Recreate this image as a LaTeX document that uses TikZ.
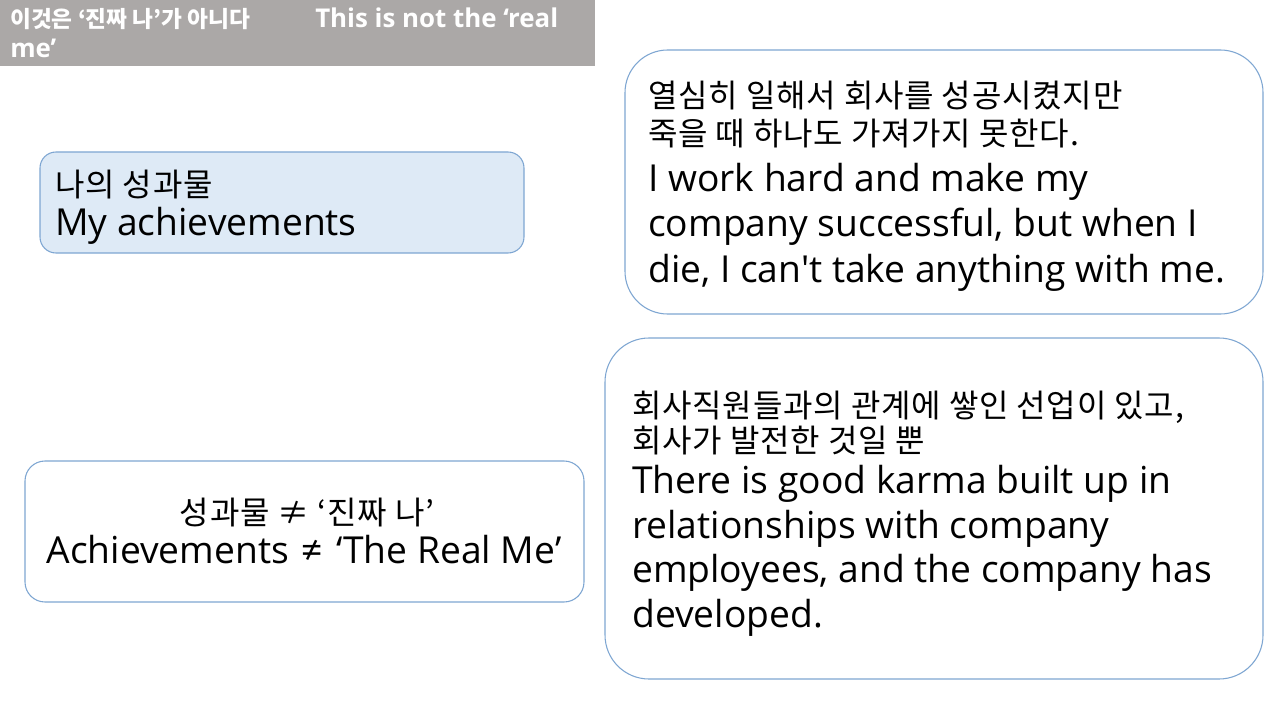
\documentclass[tikz,border=0pt]{standalone}
\usepackage{fontspec}
\setmainfont{Open Sans}[Ligatures=TeXOff]
\newfontfamily\kor{Noto Sans CJK KR}[LetterSpace=2.5]
\newfontfamily\kortitle{Noto Sans CJK KR}
\definecolor{titlegray}{HTML}{ABA8A7}
\definecolor{boxline}{HTML}{7EA6D2}
\definecolor{boxfill}{HTML}{DEEAF6}
\tikzset{
  panel/.style={draw=boxline, line width=0.8pt},
  kline/.style={anchor=base west, inner sep=0pt, font=\kor\fontsize{24}{28}\selectfont},
  eline/.style={anchor=base west, inner sep=0pt, font=\fontsize{27.9}{32}\selectfont},
  kmid/.style={anchor=base, inner sep=0pt, font=\kor\fontsize{24}{28}\selectfont},
  emid/.style={anchor=base, inner sep=0pt, font=\fontsize{27.9}{32}\selectfont},
  ttl/.style={anchor=base west, inner sep=0pt, text=white, font=\kortitle\bfseries\fontsize{17}{20}\selectfont},
  ttle/.style={anchor=base west, inner sep=0pt, text=white, font=\bfseries\fontsize{19.4}{20}\selectfont},
}
\begin{document}
\begin{tikzpicture}[x=0.75pt,y=-0.75pt]
\useasboundingbox[fill=white] (0,0) rectangle (1280,720);
% title bar
\fill[titlegray] (0,0) rectangle (595,66);
\node[ttl] (t1) at (10,28) {이것은 ‘진짜 나’가 아니다};
\node[ttle] (t1e) at (315,28) {This is not the ‘real};
\node[ttle] (t2) at (10,58) {me’};
% box 1
\draw[panel, fill=boxfill, rounded corners=12pt] (40,152) rectangle (524,253);
\node[kline] (b1k) at (55,197) {나의 성과물};
\node[eline] (b1e) at (55,235) {My achievements};
% box 2
\draw[panel, rounded corners=32pt] (625,50) rectangle (1263,314);
\node[kline] (b2k1) at (648,108) {열심히 일해서 회사를 성공시켰지만};
\node[kline] (b2k2) at (648,146) {죽을 때 하나도 가져가지 못한다.};
\node[eline] (b2e1) at (648,192) {I work hard and make my};
\node[eline] (b2e2) at (648,237) {company successful, but when I};
\node[eline] (b2e3) at (648,282) {die, I can't take anything with me.};
% box 3
\draw[panel, rounded corners=15pt] (25,461) rectangle (584,602);
\node[kmid] (b3k) at (307,524) {성과물 ≠ ‘진짜 나’};
\node[emid] (b3e) at (304,563) {Achievements\hspace{0.35em}≠\hspace{0.35em}‘The Real Me’};
% box 4
\draw[panel, rounded corners=33pt] (605,338) rectangle (1263,679);
\node[kline] (b4k1) at (632,417) {회사직원들과의 관계에 쌓인 선업이 있고,};
\node[kline] (b4k2) at (632,452) {회사가 발전한 것일 뿐};
\node[eline] (b4e1) at (632,493) {There is good karma built up in};
\node[eline] (b4e2) at (632,538) {relationships with company};
\node[eline] (b4e3) at (632,582) {employees, and the company has};
\node[eline] (b4e4) at (632,627) {developed.};
\end{tikzpicture}
\end{document}
